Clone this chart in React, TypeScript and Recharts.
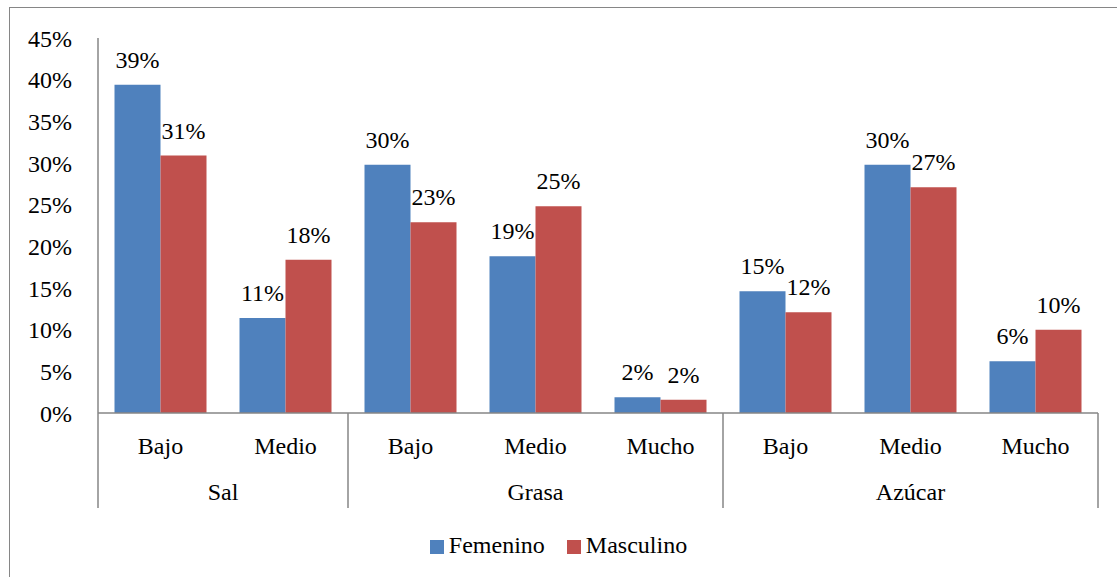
import { BarChart, Bar, XAxis, YAxis, Legend, LabelList } from 'recharts'

// ─── Data ────────────────────────────────────────────────────────────────────
const categories = ['Bajo', 'Medio', 'Bajo', 'Medio', 'Mucho', 'Bajo', 'Medio', 'Mucho']
const groupNames = ['Sal', 'Grasa', 'Azúcar']
const groupSizes = [2, 3, 3]
const femenino = [39.4, 11.4, 29.8, 18.8, 1.9, 14.6, 29.8, 6.2]
const masculino = [30.9, 18.4, 22.9, 24.8, 1.6, 12.1, 27.1, 10.0]
const yTicks = [0, 5, 10, 15, 20, 25, 30, 35, 40, 45]

const data = categories.map((cat, i) => ({ cat, fem: femenino[i], masc: masculino[i] }))

// ─── Layout ──────────────────────────────────────────────────────────────────
const W = 1117
const H = 577
const MARGIN = { top: 38, right: 19, bottom: 69, left: 0 }
const Y_AXIS_W = 98
const X_AXIS_H = 95
const BAND = (W - MARGIN.left - MARGIN.right - Y_AXIS_W) / categories.length

const FONT = "'Liberation Serif', 'Times New Roman', serif"
const AXIS = '#868686'
const BLUE = '#4F81BD'
const RED = '#C0504D'

const css = `
.chart-root, .chart-root div, .chart-root span, .chart-root text, .chart-root tspan {
  font-family: 'Liberation Serif', 'Times New Roman', serif !important;
}
`

// which group each category starts, if any
const groupStart: Record<number, number> = {}
let acc = 0
groupSizes.forEach((n, g) => { groupStart[acc] = g; acc += n })

function CategoryTick({ x, y, payload, index }: any) {
  const top = y - 8 // axis line
  const g = groupStart[index]
  const isLast = index === categories.length - 1
  return (
    <g>
      <text x={x} y={top + 41} textAnchor="middle" fontFamily={FONT} fontSize={24} fill="#000">
        {payload.value}
      </text>
      {g !== undefined && (
        <>
          <line x1={x - BAND / 2} x2={x - BAND / 2} y1={top} y2={top + X_AXIS_H} stroke={AXIS} strokeWidth={1.5} />
          <text
            x={x - BAND / 2 + (groupSizes[g] * BAND) / 2}
            y={top + 87}
            textAnchor="middle"
            fontFamily={FONT}
            fontSize={24}
            fill="#000"
          >
            {groupNames[g]}
          </text>
        </>
      )}
      {isLast && (
        <line x1={x + BAND / 2} x2={x + BAND / 2} y1={top} y2={top + X_AXIS_H} stroke={AXIS} strokeWidth={1.5} />
      )}
    </g>
  )
}

function LegendContent({ payload }: any) {
  return (
    <div style={{ display: 'flex', justifyContent: 'center', gap: 22, fontFamily: FONT, fontSize: 24, color: '#000', lineHeight: '28px' }}>
      {(payload || []).map((p: any) => (
        <div key={p.value} style={{ display: 'flex', alignItems: 'center' }}>
          <span style={{ display: 'inline-block', width: 14, height: 14, background: p.color, marginRight: 5, marginTop: 4 }} />
          <span>{p.value}</span>
        </div>
      ))}
    </div>
  )
}

export default function App() {
  return (
    <div className="chart-root" style={{ position: 'absolute', left: 0, top: 0, width: W, height: H, overflow: 'hidden', background: '#fff', fontFamily: FONT }}>
      <style>{css}</style>
      <div
        style={{
          position: 'absolute', left: 9, top: 7, width: 1300, height: 800,
          border: `1px solid ${AXIS}`,
        }}
      />
      <div style={{ position: 'absolute', left: 0, top: 0 }}>
        <BarChart width={W} height={H} data={data} margin={MARGIN} barCategoryGap="13.2%" barGap={0}>
          <XAxis
            dataKey="cat"
            interval={0}
            height={X_AXIS_H}
            tickLine={false}
            axisLine={{ stroke: AXIS, strokeWidth: 1.5 }}
            tick={<CategoryTick />}
          />
          <YAxis
            domain={[0, 45]}
            ticks={yTicks}
            width={Y_AXIS_W}
            tickLine={false}
            tickSize={0}
            tickMargin={26}
            axisLine={{ stroke: AXIS, strokeWidth: 1.5 }}
            tickFormatter={(v: number) => `${v}%`}
            tick={{ fill: '#000', fontSize: 24, fontFamily: FONT }}
          />
          <Legend
            layout="horizontal"
            verticalAlign="middle"
            align="center"
            wrapperStyle={{ top: 531, left: 0, width: W }}
            content={<LegendContent />}
          />
          <Bar dataKey="fem" name="Femenino" fill={BLUE} isAnimationActive={false}>
            <LabelList
              dataKey="fem"
              position="top"
              offset={17}
              formatter={(v: any) => `${Math.round(v)}%`}
              fill="#000"
              fontSize={24}
              fontFamily={FONT}
            />
          </Bar>
          <Bar dataKey="masc" name="Masculino" fill={RED} isAnimationActive={false}>
            <LabelList
              dataKey="masc"
              position="top"
              offset={17}
              formatter={(v: any) => `${Math.round(v)}%`}
              fill="#000"
              fontSize={24}
              fontFamily={FONT}
            />
          </Bar>
        </BarChart>
      </div>
    </div>
  )
}
